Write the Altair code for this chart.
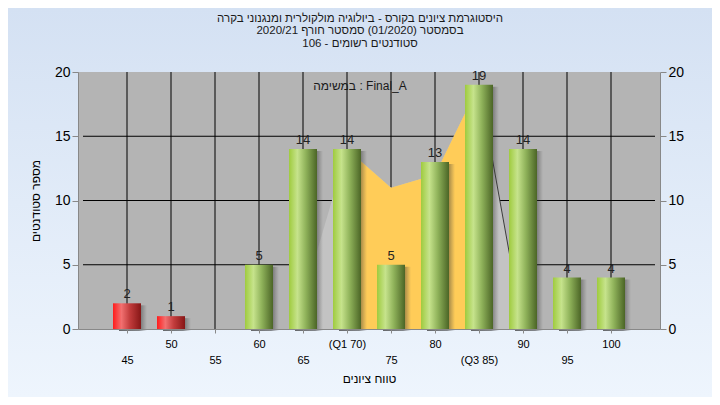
import altair as alt
import pandas as pd

# ---- data ----
grades = [45, 50, 55, 60, 65, 70, 75, 80, 85, 90, 95, 100]
counts = [2, 1, 0, 5, 14, 14, 5, 13, 19, 14, 4, 4]
fail_limit = 55  # grades up to here drawn in red

tick_values = [45, 50, 55, 60, 65, 70, 75, 80, 85, 90, 95, 100]
tick_labels = ["45", "50", "55", "60", "65", "(Q1 70)", "75", "80", "(Q3 85)", "90", "95", "100"]
y_ticks = [0, 5, 10, 15, 20]
h_grid = [5, 10, 15]

# frequency polygon behind the bars (light grey) and its inter-quartile part (yellow)
poly_x = [64, 70, 75, 80, 85, 90]
poly_y = [0, 14, 11, 12, 19, 0]
iqr_x = [70, 75, 80, 85]
iqr_y = [14, 11, 12, 19]
edge_x = [85, 90]
edge_y = [19, 0]

title_lines = [
    "היסטוגרמת ציונים בקורס - ביולוגיה מולקולרית ומנגנוני בקרה",
    "בסמסטר  (01/2020)  סמסטר חורף 2020/21",
    "סטודנטים רשומים - 106",
]
x_title = "טווח ציונים"
y_title = "מספר סטודנטים"
task_note = "במשימה : Final_A"

FONT = "Liberation Sans"
W, H = 582, 257

df = pd.DataFrame({"grade": grades, "count": counts})
df["fail"] = df["grade"] <= fail_limit
df = df[df["count"] > 0]

xs = alt.Scale(domain=[40, 105], nice=False, zero=False)
ys = alt.Scale(domain=[0, 20], nice=False)

# label expression from the tick lists
expr = "datum.label"
for v, l in zip(tick_values, tick_labels):
    expr = f"datum.value == {v} ? '{l}' : ({expr})"

one = pd.DataFrame({"a": [0]})

page_bg = alt.Chart(one).mark_rect(
    color=alt.Gradient(gradient="linear", x1=0, y1=0, x2=0, y2=1,
                       stops=[alt.GradientStop(color="#d4e1f3", offset=0),
                              alt.GradientStop(color="#eef5fd", offset=1)])
).encode(x=alt.value(-70), x2=alt.value(W + 52), y=alt.value(-64), y2=alt.value(H + 68))

plot_bg = alt.Chart(one).mark_rect(color="#b4b4b4").encode(
    x=alt.value(0), x2=alt.value(W), y=alt.value(0), y2=alt.value(H))

vgrid = alt.Chart(pd.DataFrame({"g": tick_values})).mark_rule(color="#000000", strokeWidth=1).encode(
    x=alt.X("g:Q", scale=xs, axis=None),
    y=alt.datum(0, scale=ys, axis=None), y2=alt.datum(20))

hgrid = alt.Chart(pd.DataFrame({"g": h_grid})).mark_rule(color="#000000", strokeWidth=1).encode(
    y=alt.Y("g:Q", scale=ys, axis=None),
    x=alt.datum(40, scale=xs, axis=None), x2=alt.datum(105))

poly = alt.Chart(pd.DataFrame({"x": poly_x, "y": poly_y})).mark_area(color="#c3c3c3").encode(
    x=alt.X("x:Q", scale=xs, axis=None), y=alt.Y("y:Q", scale=ys, axis=None))

iqr = alt.Chart(pd.DataFrame({"x": iqr_x, "y": iqr_y})).mark_area(color="#ffcc58").encode(
    x=alt.X("x:Q", scale=xs, axis=None), y=alt.Y("y:Q", scale=ys, axis=None))

edge = alt.Chart(pd.DataFrame({"x": edge_x, "y": edge_y})).mark_line(color="#3c3c3c", strokeWidth=1).encode(
    x=alt.X("x:Q", scale=xs, axis=None), y=alt.Y("y:Q", scale=ys, axis=None))

shadow = alt.Chart(df).mark_bar(
    size=28, xOffset=6, yOffset=2,
    color=alt.Gradient(gradient="linear", x1=0, y1=0, x2=1, y2=0,
                       stops=[alt.GradientStop(color="rgba(45,45,45,0.7)", offset=0),
                              alt.GradientStop(color="rgba(45,45,45,0.55)", offset=0.72),
                              alt.GradientStop(color="rgba(70,70,70,0)", offset=1)])
).encode(x=alt.X("grade:Q", scale=xs, axis=None), y=alt.Y("count:Q", scale=ys, axis=None))

green = alt.Gradient(gradient="linear", x1=0, y1=0, x2=1, y2=0,
                     stops=[alt.GradientStop(color="#9fcb3e", offset=0),
                            alt.GradientStop(color="#c6e38c", offset=0.3),
                            alt.GradientStop(color="#8fb25a", offset=0.6),
                            alt.GradientStop(color="#4b6526", offset=1)])
red = alt.Gradient(gradient="linear", x1=0, y1=0, x2=1, y2=0,
                   stops=[alt.GradientStop(color="#ff1c1c", offset=0),
                          alt.GradientStop(color="#f27070", offset=0.3),
                          alt.GradientStop(color="#c23c3c", offset=0.6),
                          alt.GradientStop(color="#861616", offset=1)])

x_axis = alt.Axis(values=tick_values, labelExpr=expr, title=x_title, grid=False, zindex=2,
                  tickSize=4, labelFontSize=11, labelPadding={"expr": "datum.value % 10 == 0 ? 5 : 21"},
                  titleFontSize=12, titlePadding=8, titleFontWeight="normal")
y_axis_l = alt.Axis(values=y_ticks, title=y_title, grid=False, tickSize=6, labelFontSize=14, zindex=2,
                    titleFontSize=12, titlePadding=12, titleFontWeight="normal")
y_axis_r = alt.Axis(values=y_ticks, title=None, grid=False, tickSize=6, labelFontSize=14, orient="right",
                    zindex=2)

bars_green = alt.Chart(df).transform_filter("!datum.fail").mark_bar(size=28, color=green).encode(
    x=alt.X("grade:Q", scale=xs, axis=x_axis),
    y=alt.Y("count:Q", scale=ys, axis=y_axis_l))

bars_red = alt.Chart(df).transform_filter("datum.fail").mark_bar(size=28, color=red).encode(
    x=alt.X("grade:Q", scale=xs, axis=None),
    y=alt.Y("count:Q", scale=ys, axis=y_axis_r))

labels = alt.Chart(df).mark_text(baseline="bottom", dy=-2, fontSize=13, font=FONT, color="#222222").encode(
    x=alt.X("grade:Q", scale=xs, axis=None),
    y=alt.Y("count:Q", scale=ys, axis=None),
    text="count:Q")

note = alt.Chart(one).mark_text(fontSize=12, font=FONT, color="#1a1a1a", align="center", baseline="middle").encode(
    x=alt.value(282), y=alt.value(14), text=alt.value(task_note))

chart = alt.layer(
    page_bg, plot_bg, vgrid, hgrid, poly, iqr, edge, shadow, bars_green, bars_red, labels, note
).resolve_axis(x="independent", y="independent").properties(
    width=W, height=H,
    autosize=alt.AutoSizeParams(type="none"),
    padding={"left": 70, "top": 64, "right": 52, "bottom": 68},
    title=alt.TitleParams(text=title_lines, fontSize=11.5, font=FONT, fontWeight="normal", frame="group",
                          color="#1a1a1a", anchor="middle", dx=-9, offset=-41, lineHeight=12.5),
).configure_view(stroke="#000000", strokeWidth=1, fill=None).configure_axis(
    domainColor="#000000", tickColor="#000000", labelColor="#151515",
    titleColor="#151515", labelFont=FONT, titleFont=FONT, titleFontWeight="normal"
).configure(background="#e2ecf8")

chart.save("out.html", embed_options={"renderer": "svg", "actions": False})
